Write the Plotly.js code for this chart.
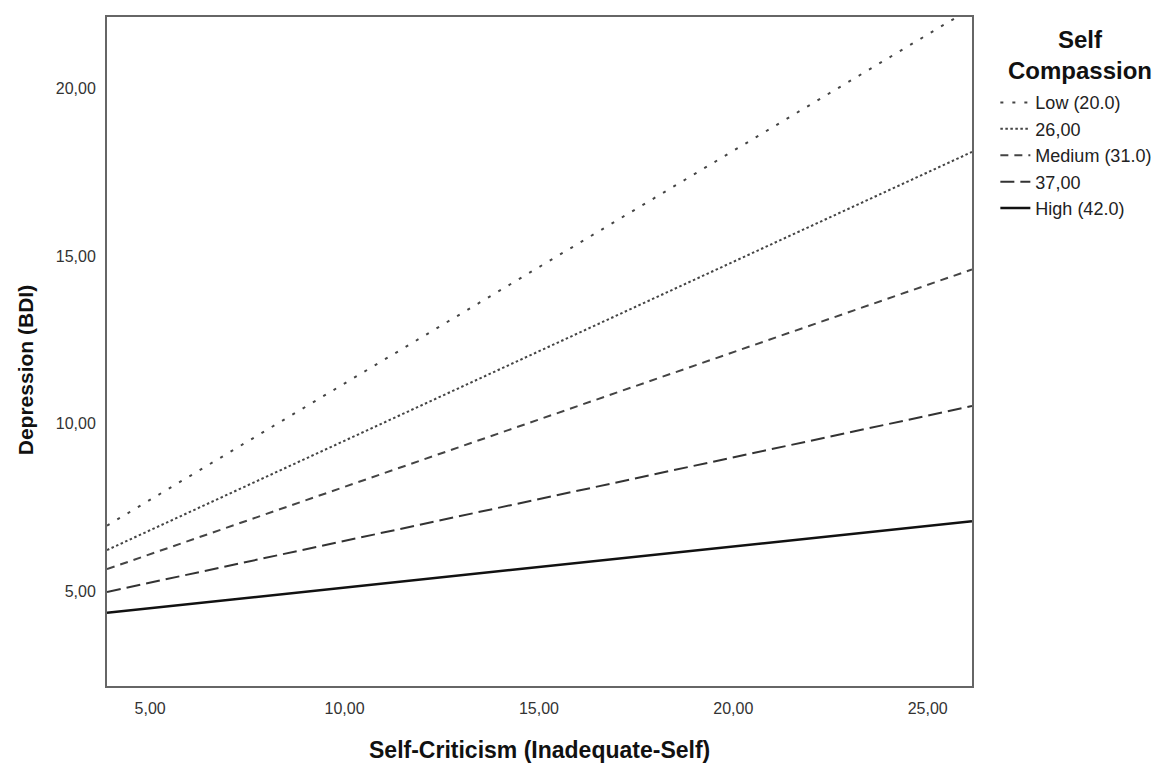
<!DOCTYPE html>
<html>
<head>
<meta charset="utf-8">
<script src="https://cdn.plot.ly/plotly-3.0.1.min.js"></script>
<style>html,body{margin:0;padding:0;background:#fff;}#chart{width:1166px;height:763px;}</style>
</head>
<body>
<div id="chart"></div>
<script>
// Data
const xEnds = [3.89, 26.14];
const seriesNames = ["Low (20.0)", "26,00", "Medium (31.0)", "37,00", "High (42.0)"];
const lowVals = [6.95, 22.41];
const sc26Vals = [6.22, 18.11];
const mediumVals = [5.65, 14.60];
const sc37Vals = [4.97, 10.52];
const highVals = [4.35, 7.08];
const xTicks = [5, 10, 15, 20, 25];
const yTicks = [5, 10, 15, 20];
const xRange = [3.89, 26.14];
const yRange = [2.16, 22.14];

const FONT = "Liberation Sans, Arial, sans-serif";
const styles = [
  {color: "#444", width: 2, dash: "3px,9px"},
  {color: "#444", width: 2, dash: "2.5px,2.5px"},
  {color: "#444", width: 2, dash: "8px,6px"},
  {color: "#333", width: 2, dash: "14px,6px"},
  {color: "#111", width: 2.5, dash: "solid"}
];
const allVals = [lowVals, sc26Vals, mediumVals, sc37Vals, highVals];
const traces = allVals.map((v, i) => ({
  type: "scatter", mode: "lines", x: xEnds, y: v, name: seriesNames[i],
  line: styles[i], hoverinfo: "skip"
}));

const layout = {
  width: 1166, height: 763,
  margin: {l: 107, r: 194, t: 17, b: 77, autoexpand: false},
  paper_bgcolor: "#fff", plot_bgcolor: "#fff",
  separators: ",.",
  showlegend: true,
  font: {family: FONT, color: "#333"},
  xaxis: {
    range: xRange, tickvals: xTicks, tickformat: ".2f", ticks: "",
    showgrid: false, zeroline: false, showline: true, mirror: true,
    linecolor: "#666", linewidth: 2, ticklabelstandoff: 7,
    tickfont: {family: FONT, size: 16, color: "#333"}
  },
  yaxis: {
    range: yRange, tickvals: yTicks, tickformat: ".2f", ticks: "",
    showgrid: false, zeroline: false, showline: true, mirror: true,
    linecolor: "#666", linewidth: 2, ticklabelstandoff: 6,
    tickfont: {family: FONT, size: 16, color: "#333"}
  },
  legend: {
    x: 1.027, xanchor: "left", y: 0.8995, yanchor: "top",
    bgcolor: "rgba(0,0,0,0)",
    font: {family: FONT, size: 18, color: "#222"},
    tracegroupgap: 0
  },
  annotations: [
    {text: "<b>Self<br>Compassion</b>", xref: "paper", yref: "paper", x: 1.1249, y: 0.943,
     xanchor: "center", yanchor: "middle", align: "center", showarrow: false,
     font: {family: FONT, size: 24, color: "#111"}},
    {text: "<b>Self-Criticism (Inadequate-Self)</b>", xref: "paper", yref: "paper", x: 0.5, y: -0.0956,
     xanchor: "center", yanchor: "middle", showarrow: false, font: {family: FONT, size: 23, color: "#111"}},
    {text: "<b>Depression (BDI)</b>", xref: "paper", yref: "paper", x: 0, xshift: -82, y: 0.472,
     xanchor: "center", yanchor: "middle", textangle: -90, showarrow: false, font: {family: FONT, size: 21, color: "#111"}}
  ]
};
Plotly.newPlot("chart", traces, layout, {displayModeBar: false, staticPlot: true});
</script>
</body>
</html>
